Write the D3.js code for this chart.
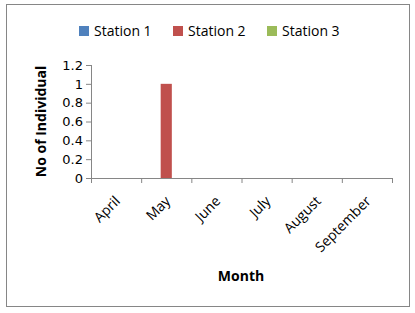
<!DOCTYPE html>
<html>
<head>
<meta charset="utf-8">
<script src="https://cdn.jsdelivr.net/npm/d3@7"></script>
<style>
  body { margin: 0; background: #fff; }
  text { font-family: "Open Sans", "Liberation Sans", sans-serif; }
</style>
</head>
<body>
<svg id="target"></svg>
<script>
// Chart data
let months = ["April", "May", "June", "July", "August", "September"];
let seriesNames = ["Station 1", "Station 2", "Station 3"];
let station1 = [0, 0, 0, 0, 0, 0];
let station2 = [0, 1, 0, 0, 0, 0];
let station3 = [0, 0, 0, 0, 0, 0];
let yTicks = [0, 0.2, 0.4, 0.6, 0.8, 1, 1.2];

let colors = ["#4f81bd", "#c0504d", "#9bbb59"];
let W = 415, H = 313;
let margin = {top: 65, left: 91, right: 23, bottom: 135};
let width = W - margin.left - margin.right,
    height = H - margin.top - margin.bottom;

function main() {
    let svg = d3.select("#target")
        .attr("width", W)
        .attr("height", H);

    // Outer border
    svg.append("rect")
        .attr("x", 6.5).attr("y", 4.5)
        .attr("width", 403).attr("height", 302)
        .attr("fill", "#fff")
        .attr("stroke", "#868686");

    let g = svg.append("g")
        .attr("transform", "translate(" + margin.left + "," + margin.top + ")");

    let x = d3.scaleBand().domain(months).range([0, width]);
    let y = d3.scaleLinear().domain([0, 1.2]).range([height, 0]);

    // Bars: gap width 150%
    let bw = x.bandwidth() / 4.5;
    let data = [station1, station2, station3];
    data.forEach((vals, si) => {
        g.append("g").selectAll("rect")
            .data(vals)
            .enter()
            .append("rect")
            .attr("x", (d, i) => x(months[i]) + 0.75 * bw + si * bw)
            .attr("y", d => y(d))
            .attr("width", bw)
            .attr("height", d => height - y(d))
            .attr("fill", colors[si]);
    });

    // Y axis
    let yAxis = g.append("g")
        .call(d3.axisLeft(y).tickValues(yTicks).tickSize(5).tickPadding(3)
            .tickFormat(d => String(d)));
    yAxis.select(".domain").attr("stroke", "#868686").attr("d", "M0.5,0V" + (height + 0.5));
    yAxis.selectAll(".tick line").attr("stroke", "#868686");
    yAxis.selectAll(".tick text")
        .attr("fill", "#000")
        .style("font-family", "'DejaVu Sans', sans-serif")
        .attr("font-size", "13px");

    // X axis
    let xAxis = g.append("g")
        .attr("transform", "translate(0," + height + ")")
        .call(d3.axisBottom(x).tickSize(0).tickPadding(0));
    xAxis.select(".domain").attr("stroke", "#868686").attr("d", "M0," + 0.5 + "H" + width);
    xAxis.selectAll(".tick text")
        .attr("font-size", "14px")
        .attr("fill", "#000")
        .attr("text-anchor", "end")
        .attr("dy", 0)
        .attr("transform", "translate(5,24) rotate(-45)");

    // Category boundary ticks
    g.append("g").selectAll("line")
        .data(d3.range(months.length + 1))
        .enter()
        .append("line")
        .attr("x1", i => (i < months.length ? x(months[i]) : width) + 0.5)
        .attr("x2", i => (i < months.length ? x(months[i]) : width) + 0.5)
        .attr("y1", height)
        .attr("y2", height + 5)
        .attr("stroke", "#868686");

    // Axis titles
    svg.append("text")
        .attr("transform", "translate(46," + (margin.top + height / 2) + ") rotate(-90)")
        .attr("text-anchor", "middle")
        .attr("font-size", "14px")
        .attr("font-weight", "bold")
        .text("No of Individual");

    svg.append("text")
        .attr("x", 241)
        .attr("y", 281)
        .attr("text-anchor", "middle")
        .attr("font-size", "14px")
        .attr("font-weight", "bold")
        .text("Month");

    // Legend
    let legendX = [79, 173, 267];
    let legend = svg.append("g");
    seriesNames.forEach((name, i) => {
        legend.append("rect")
            .attr("x", legendX[i]).attr("y", 26)
            .attr("width", 10).attr("height", 10)
            .attr("fill", colors[i]);
        legend.append("text")
            .attr("x", legendX[i] + 15)
            .attr("y", 36)
            .attr("font-size", "14px")
            .text(name);
    });
}
main();
</script>
</body>
</html>
